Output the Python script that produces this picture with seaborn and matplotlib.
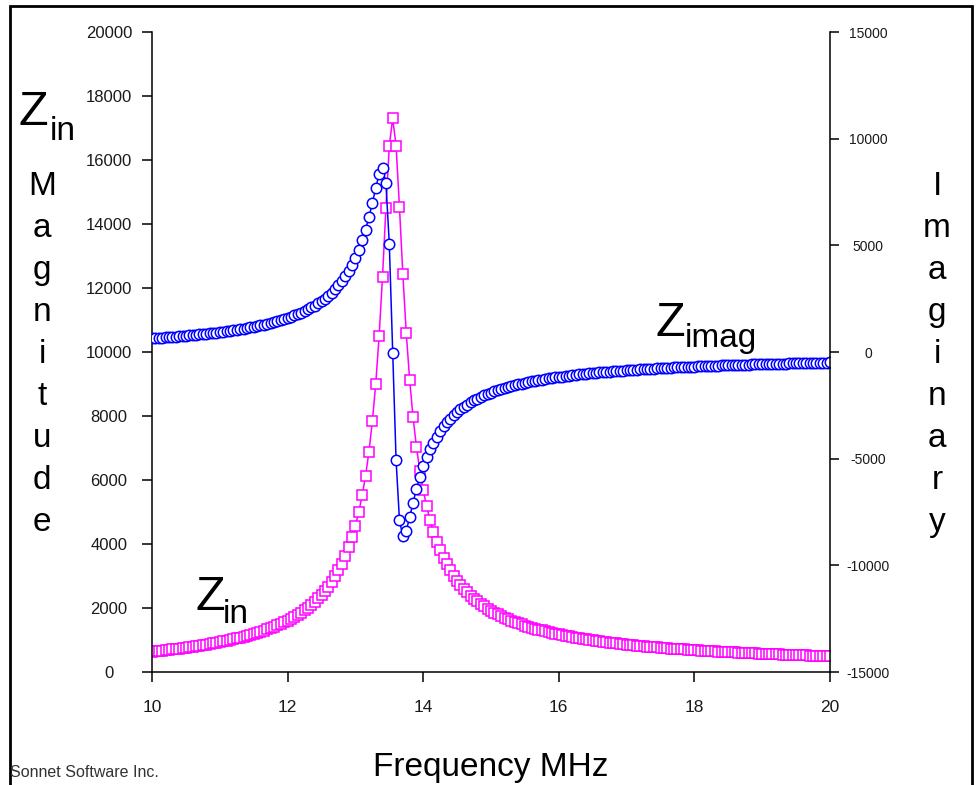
import numpy as np
import pandas as pd
import seaborn as sns
import matplotlib.pyplot as plt
from matplotlib.patches import Rectangle

# Частота развёртки, МГц (шаг 0.05)
freq = np.round(np.linspace(10, 20, 201), 2)

# |Zin|, Ом (левая ось)
zin_mag = [
    637, 648, 659, 671, 683, 695, 708, 721, 734, 748,
    762, 777, 792, 808, 824, 841, 858, 876, 895, 915,
    935, 956, 978, 1000, 1024, 1049, 1075, 1102, 1130, 1159,
    1190, 1223, 1257, 1292, 1330, 1371, 1412, 1457, 1504, 1554,
    1607, 1664, 1725, 1789, 1859, 1934, 2014, 2101, 2196, 2299,
    2411, 2534, 2670, 2820, 2987, 3173, 3384, 3622, 3894, 4209,
    4574, 5004, 5516, 6133, 6888, 7829, 9009, 10504, 12356, 14492,
    16444, 17300, 16450, 14519, 12423, 10598, 9131, 7967, 7040, 6294,
    5683, 5175, 4750, 4388, 4076, 3806, 3569, 3360, 3174, 3008,
    2859, 2724, 2602, 2490, 2388, 2293, 2207, 2127, 2052, 1983,
    1918, 1858, 1802, 1749, 1699, 1652, 1607, 1566, 1526, 1488,
    1453, 1419, 1386, 1355, 1326, 1298, 1271, 1246, 1221, 1197,
    1175, 1153, 1132, 1112, 1093, 1074, 1056, 1039, 1022, 1006,
    990, 975, 960, 946, 932, 919, 906, 894, 882, 870,
    858, 847, 836, 826, 816, 806, 796, 786, 777, 768,
    759, 751, 742, 734, 726, 719, 711, 704, 696, 689,
    683, 676, 669, 663, 656, 650, 644, 638, 632, 627,
    621, 615, 610, 605, 600, 595, 590, 585, 580, 575,
    570, 566, 561, 557, 553, 548, 544, 540, 536, 532,
    528, 524, 520, 517, 513, 509, 506, 502, 499, 496,
    492,
]

# Im(Zin), Ом (правая ось)
zin_imag = [
    636, 647, 658, 670, 682, 694, 707, 720, 733, 747,
    761, 776, 791, 806, 822, 839, 856, 874, 893, 913,
    933, 954, 976, 998, 1022, 1047, 1073, 1099, 1127, 1157,
    1187, 1220, 1253, 1289, 1326, 1366, 1407, 1452, 1498, 1547,
    1600, 1656, 1716, 1780, 1848, 1921, 2000, 2086, 2178, 2278,
    2387, 2507, 2638, 2782, 2942, 3120, 3319, 3542, 3794, 4082,
    4411, 4790, 5228, 5734, 6318, 6981, 7688, 8346, 8640, 7912,
    5080, -60, -5070, -7890, -8641, -8375, -7755, -7072, -6430, -5862,
    -5366, -4938, -4567, -4244, -3961, -3712, -3492, -3296, -3120, -2963,
    -2820, -2690, -2572, -2464, -2365, -2273, -2189, -2111, -2038, -1970,
    -1907, -1847, -1792, -1740, -1690, -1644, -1600, -1559, -1520, -1483,
    -1447, -1414, -1382, -1351, -1322, -1294, -1268, -1242, -1218, -1194,
    -1172, -1150, -1130, -1110, -1090, -1072, -1054, -1037, -1020, -1004,
    -988, -973, -959, -945, -931, -918, -905, -893, -880, -869,
    -857, -846, -835, -825, -815, -805, -795, -786, -776, -767,
    -759, -750, -742, -734, -726, -718, -711, -703, -696, -689,
    -682, -675, -669, -662, -656, -650, -644, -638, -632, -626,
    -621, -615, -610, -604, -599, -594, -589, -584, -580, -575,
    -570, -566, -561, -557, -552, -548, -544, -540, -536, -532,
    -528, -524, -520, -517, -513, -509, -506, -502, -499, -495,
    -492,
]

x_ticks = [10, 12, 14, 16, 18, 20]
left_ticks = list(range(0, 20001, 2000))
right_ticks = [-15000, -10000, -5000, 0, 5000, 10000, 15000]

df = pd.DataFrame({'freq': freq, 'mag': zin_mag, 'imag': zin_imag})

sns.set_style('ticks')
plt.rcParams['font.family'] = ['Liberation Sans', 'DejaVu Sans']
plt.rcParams['axes.unicode_minus'] = False
plt.rcParams['text.color'] = 'black'

W, H = 980, 785


def fx(x):
    return x / W


def fy(y):
    return 1 - y / H


fig = plt.figure(figsize=(9.8, 7.85), dpi=100)
ax = fig.add_axes([fx(152), fy(672), (830 - 152) / W, (672 - 32) / H])
ax2 = ax.twinx()

sns.lineplot(data=df, x='freq', y='mag', ax=ax, color='#ff00ff', marker='s',
             markersize=7.5, markerfacecolor='white', markeredgecolor='#ff00ff',
             markeredgewidth=1.1, linewidth=1.1)
sns.lineplot(data=df, x='freq', y='imag', ax=ax2, color='#0000ff', marker='o',
             markersize=7.5, markerfacecolor='white', markeredgecolor='#0000ff',
             markeredgewidth=1.1, linewidth=1.1)

ax.set_xlim(10, 20)
ax.set_ylim(0, 20000)
ax2.set_ylim(-15000, 15000)
ax.set_xticks(x_ticks)
ax.set_yticks(left_ticks)
ax2.set_yticks(right_ticks)
ax.set_xlabel('')
ax.set_ylabel('')
ax2.set_ylabel('')

for a in (ax, ax2):
    a.spines['top'].set_visible(False)
    for s in a.spines.values():
        s.set_linewidth(1.1)
        s.set_color('black')
ax.spines['right'].set_visible(False)
ax2.spines['left'].set_visible(False)
ax2.spines['bottom'].set_visible(False)

ax.tick_params(axis='x', direction='out', length=7, width=1.1, pad=13,
               labelsize=12.5, colors='black', labelcolor='#1a1a1a')
ax.tick_params(axis='y', direction='out', length=7, width=1.1, pad=24,
               labelsize=12, colors='black', labelcolor='#1a1a1a')
ax2.tick_params(axis='y', direction='out', length=6.5, width=1.1, pad=21,
                labelsize=10, colors='black', labelcolor='#1a1a1a')
plt.setp(ax.get_yticklabels(), ha='center')
plt.setp(ax2.get_yticklabels(), ha='center')

# подписи Z_in / Z_imag
fig.text(fx(18), fy(125), 'Z', fontsize=35, va='baseline', ha='left', color='black')
fig.text(fx(50), fy(140), 'in', fontsize=24, va='baseline', ha='left', color='black')
fig.text(fx(195), fy(610), 'Z', fontsize=35, va='baseline', ha='left', color='black')
fig.text(fx(223), fy(623), 'in', fontsize=24, va='baseline', ha='left', color='black')
fig.text(fx(655), fy(336), 'Z', fontsize=35, va='baseline', ha='left', color='black')
fig.text(fx(685), fy(347), 'imag', fontsize=24, va='baseline', ha='left', color='black')

# вертикальные подписи осей, буква под буквой
for i, ch in enumerate('Magnitude'):
    fig.text(fx(42), fy(195 + 42 * i), ch, fontsize=24, va='baseline',
             ha='center', color='black')
for i, ch in enumerate('Imaginary'):
    fig.text(fx(937), fy(195 + 42 * i), ch, fontsize=24, va='baseline',
             ha='center', color='black')

fig.text(fx(491), fy(776), 'Frequency MHz', fontsize=24, va='baseline',
         ha='center', color='black')
fig.text(fx(10), fy(777), 'Sonnet Software Inc.', fontsize=11.5, va='baseline',
         ha='left', color='#333333')

# рамка вокруг картинки
fig.add_artist(Rectangle((fx(9.5), -0.05), (972 - 9.5) / W, fy(6) + 0.05,
                         transform=fig.transFigure, fill=False, lw=2,
                         ec='black', clip_on=False))

fig.savefig('out.png', dpi=100)
